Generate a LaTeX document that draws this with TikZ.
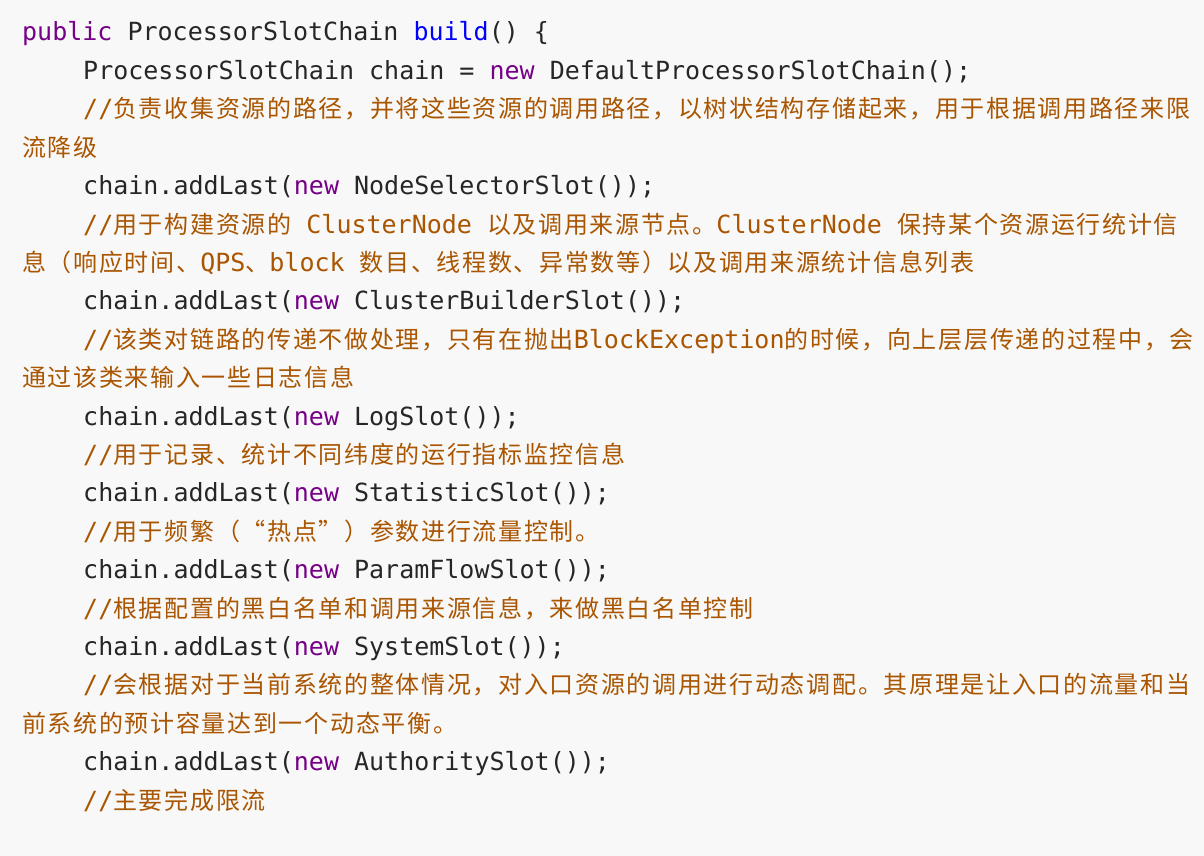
\documentclass[tikz,border=0pt]{standalone}
\usepackage{fontspec}
\usepackage{xcolor}
\usepackage{tikz}
\newfontfamily\codefont{DejaVu Sans Mono}
\newfontfamily\cjk{Noto Sans CJK SC}[Scale=0.96,LetterSpace=7]
\definecolor{bgish}{rgb}{0.973,0.973,0.973}
\definecolor{keyword}{rgb}{0.467,0,0.533}
\definecolor{fname}{rgb}{0,0,1}
\definecolor{commentish}{rgb}{0.667,0.333,0}
\definecolor{plain}{rgb}{0.15,0.15,0.15}
\newcommand{\kw}[1]{\textcolor{keyword}{#1}}
\newcommand{\fn}[1]{\textcolor{fname}{#1}}
\newcommand{\zh}[1]{{\cjk #1}}
\tikzset{%
  code/.style={anchor=base west, inner sep=0pt, text=plain,
    font=\codefont\fontsize{25}{30}\selectfont},
  cmt/.style={code, text=commentish}
}
\begin{document}
\begin{tikzpicture}[x=1pt, y=-1pt]
        \fill [bgish] (0,0) rectangle (1204,856);
        \node [code] (l1)  at (22,41)    {\kw{public} ProcessorSlotChain \fn{build}() \{};
        \node [code] (l2)  at (83,79.4)  {ProcessorSlotChain chain = \kw{new} DefaultProcessorSlotChain();};
        \node [cmt]  (l3)  at (83,117.8) {//\zh{负责收集资源的路径，并将这些资源的调用路径，以树状结构存储起来，用于根据调用路径来限}};
        \node [cmt]  (l4)  at (22,156.2) {\zh{流降级}};
        \node [code] (l5)  at (83,194.6) {chain.addLast(\kw{new} NodeSelectorSlot());};
        \node [cmt]  (l6)  at (83,233)   {//\zh{用于构建资源的} ClusterNode \zh{以及调用来源节点。}ClusterNode \zh{保持某个资源运行统计信}};
        \node [cmt]  (l7)  at (22,271.4) {\zh{息（响应时间、}QPS\zh{、}block \zh{数目、线程数、异常数等）以及调用来源统计信息列表}};
        \node [code] (l8)  at (83,309.8) {chain.addLast(\kw{new} ClusterBuilderSlot());};
        \node [cmt]  (l9)  at (83,348.2) {//\zh{该类对链路的传递不做处理，只有在抛出}BlockException\zh{的时候，向上层层传递的过程中，会}};
        \node [cmt]  (l10) at (22,386.6) {\zh{通过该类来输入一些日志信息}};
        \node [code] (l11) at (83,425)   {chain.addLast(\kw{new} LogSlot());};
        \node [cmt]  (l12) at (83,463.4) {//\zh{用于记录、统计不同纬度的运行指标监控信息}};
        \node [code] (l13) at (83,501.8) {chain.addLast(\kw{new} StatisticSlot());};
        \node [cmt]  (l14) at (83,540.2) {//\zh{用于频繁（“热点”）参数进行流量控制。}};
        \node [code] (l15) at (83,578.6) {chain.addLast(\kw{new} ParamFlowSlot());};
        \node [cmt]  (l16) at (83,617)   {//\zh{根据配置的黑白名单和调用来源信息，来做黑白名单控制}};
        \node [code] (l17) at (83,655.4) {chain.addLast(\kw{new} SystemSlot());};
        \node [cmt]  (l18) at (83,693.8) {//\zh{会根据对于当前系统的整体情况，对入口资源的调用进行动态调配。其原理是让入口的流量和当}};
        \node [cmt]  (l19) at (22,732.2) {\zh{前系统的预计容量达到一个动态平衡。}};
        \node [code] (l20) at (83,770.6) {chain.addLast(\kw{new} AuthoritySlot());};
        \node [cmt]  (l21) at (83,809)   {//\zh{主要完成限流}};
    \end{tikzpicture}
\end{document}
